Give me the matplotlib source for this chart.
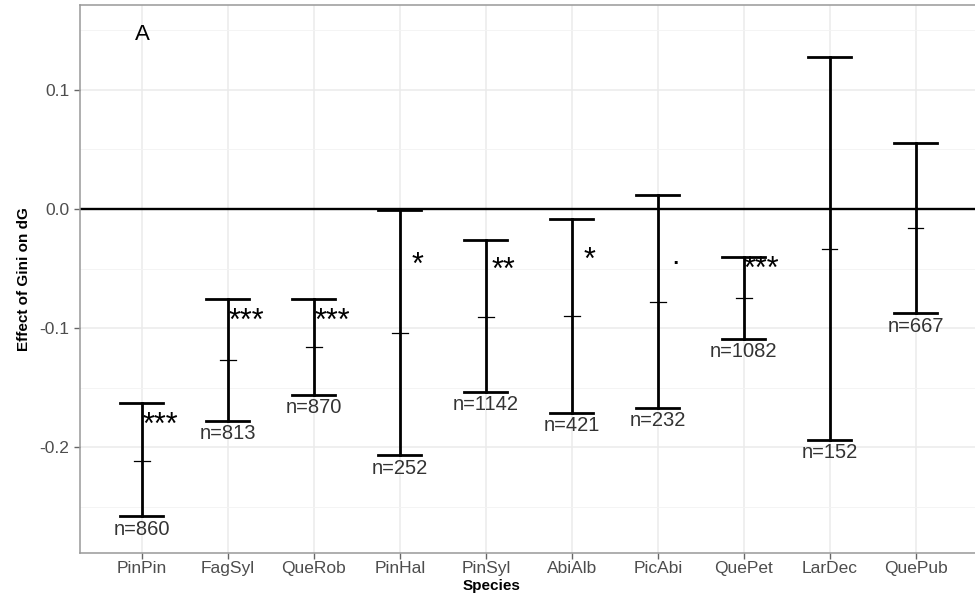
import matplotlib
matplotlib.use("Agg")
import matplotlib.pyplot as plt
from matplotlib.ticker import FixedLocator, FuncFormatter

species = ["PinPin", "FagSyl", "QueRob", "PinHal", "PinSyl",
           "AbiAlb", "PicAbi", "QuePet", "LarDec", "QuePub"]
estimate = [-0.2115, -0.1266, -0.1163, -0.104, -0.0905,
            -0.0897, -0.0785, -0.0751, -0.0336, -0.0163]
upper = [-0.1634, -0.0756, -0.0756, -0.001, -0.0258,
         -0.0084, 0.0118, -0.0406, 0.1274, 0.0551]
lower = [-0.258, -0.178, -0.156, -0.207, -0.1535,
         -0.171, -0.167, -0.109, -0.194, -0.0877]
n_obs = [860, 813, 870, 252, 1142, 421, 232, 1082, 152, 667]
signif = ["***", "***", "***", "*", "**", "*", ".", "***", "", ""]
signif_y = [-0.174, -0.087, -0.087, -0.040, -0.044,
            -0.0356, -0.032, -0.0435, 0.0, 0.0]
yticks = [-0.2, -0.1, 0.0, 0.1]

plt.rcParams["font.family"] = ["Liberation Sans", "DejaVu Sans"]

fig = plt.figure(figsize=(9.75, 5.93), dpi=100)
ax = fig.add_axes([0.082, 0.0675, 0.93, 0.9241])

xpos = list(range(1, len(species) + 1))
ax.set_xlim(0.279, 0.279 + 907 / 86)
ax.set_ylim(-0.289, 0.1714)

# grid
ax.yaxis.set_major_locator(FixedLocator(yticks))
ax.yaxis.set_minor_locator(FixedLocator([-0.25, -0.15, -0.05, 0.05, 0.15]))
ax.set_xticks(xpos)
ax.set_xticklabels(species)
ax.grid(True, which="major", color="#ebebeb", linewidth=1.1)
ax.grid(True, which="minor", axis="y", color="#f3f3f3", linewidth=0.6)
ax.set_axisbelow(True)

ax.axhline(0, color="black", linewidth=1.7, zorder=2)

cap_half = 0.25
mid_half = 0.09
lw = 2.0
for x, est, lo, hi, n, s, sy in zip(xpos, estimate, lower, upper, n_obs, signif, signif_y):
    ax.plot([x, x], [lo, hi], color="black", linewidth=lw, zorder=3)
    ax.plot([x - cap_half, x + cap_half], [hi, hi], color="black", linewidth=lw, zorder=3)
    ax.plot([x - cap_half, x + cap_half], [lo, lo], color="black", linewidth=lw, zorder=3)
    ax.plot([x - mid_half, x + mid_half], [est, est], color="black", linewidth=0.9, zorder=3)
    ax.annotate(f"n={n}", xy=(x, lo), xytext=(0, -2.5), textcoords="offset points",
                ha="center", va="top", fontsize=14.5, color="#333333")
    if s:
        ax.annotate(s, xy=(x, sy), xytext=(13, -12.5), textcoords="offset points",
                    ha="center", va="baseline", fontsize=22, color="black")

ax.text(1, 0.147, "A", ha="center", va="center", fontsize=16, color="black")

ax.yaxis.set_major_formatter(FuncFormatter(lambda v, p: f"{v:.1f}".replace("\u2212", "-")))
ax.tick_params(axis="both", which="major", labelsize=12.5, labelcolor="#4d4d4d",
               color="#666666", length=4, width=1)
ax.tick_params(axis="x", which="major", pad=2)
ax.tick_params(axis="y", which="minor", length=0)

for sp in ax.spines.values():
    sp.set_color("#999999")
    sp.set_linewidth(1.1)

ax.set_ylabel("Effect of Gini on dG", fontsize=11, fontweight="bold")
ax.yaxis.set_label_coords(-0.054, 0.5)
ax.set_xlabel("Species", fontsize=11, fontweight="bold")
ax.xaxis.set_label_coords((492 - 80) / 907, -0.0475)

fig.savefig("out.png", dpi=100)
